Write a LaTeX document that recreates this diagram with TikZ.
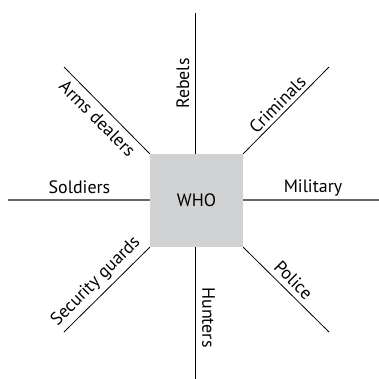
\documentclass[tikz,border=0pt]{standalone}
\usepackage{fontspec}
\setmainfont{PT Sans}
\definecolor{boxgray}{HTML}{D1D2D4}
\definecolor{linegray}{HTML}{666666}
\begin{document}
\begin{tikzpicture}[x=1bp,y=-1bp,
  lbl/.style={font=\fontsize{18}{20}\selectfont, inner sep=0pt},
  spoke/.style={draw=black, line width=0.8bp},
  hspoke/.style={draw=linegray, line width=1.4bp}]
\useasboundingbox (0,0) rectangle (379,379);
\node[fill=boxgray, minimum width=93bp, minimum height=93bp, inner sep=0pt,
      font=\fontsize{18}{20}\selectfont] (who) at (196.5,200.5) {WHO};
\coordinate (top) at (195.5,13);
\coordinate (bot) at (195.5,379);
\coordinate (left) at (8,200);
\coordinate (right) at (379,200);
\coordinate (ul) at (64,67);
\coordinate (ur) at (329,67);
\coordinate (lr) at (329,332);
\coordinate (ll) at (64,332);
\draw[spoke] (top) -- (top |- who.north);
\draw[spoke] (bot |- who.south) -- (bot);
\draw[hspoke] (left) -- (who.west |- left);
\draw[hspoke] (who.east |- right) -- (right);
\draw[spoke] (ul) -- (who.north west);
\draw[spoke] (who.north east) -- (ur);
\draw[spoke] (who.south east) -- (lr);
\draw[spoke] (who.south west) -- (ll);
\node[lbl, rotate=90] (rebels) at (183,83.5) {Rebels};
\node[lbl, rotate=-90] (hunters) at (208.5,317.5) {Hunters};
\node[lbl] (soldiers) at (79.5,187.5) {Soldiers};
\node[lbl] (military) at (313,188) {Military};
\node[lbl, rotate=-45] (arms) at (97.5,118.5) {Arms dealers};
\node[lbl, rotate=45] (criminals) at (277.5,104.5) {Criminals};
\node[lbl, rotate=-45] (police) at (293.5,280) {Police};
\node[lbl, rotate=45] (security) at (96,281.5) {Security guards};
\end{tikzpicture}
\end{document}
